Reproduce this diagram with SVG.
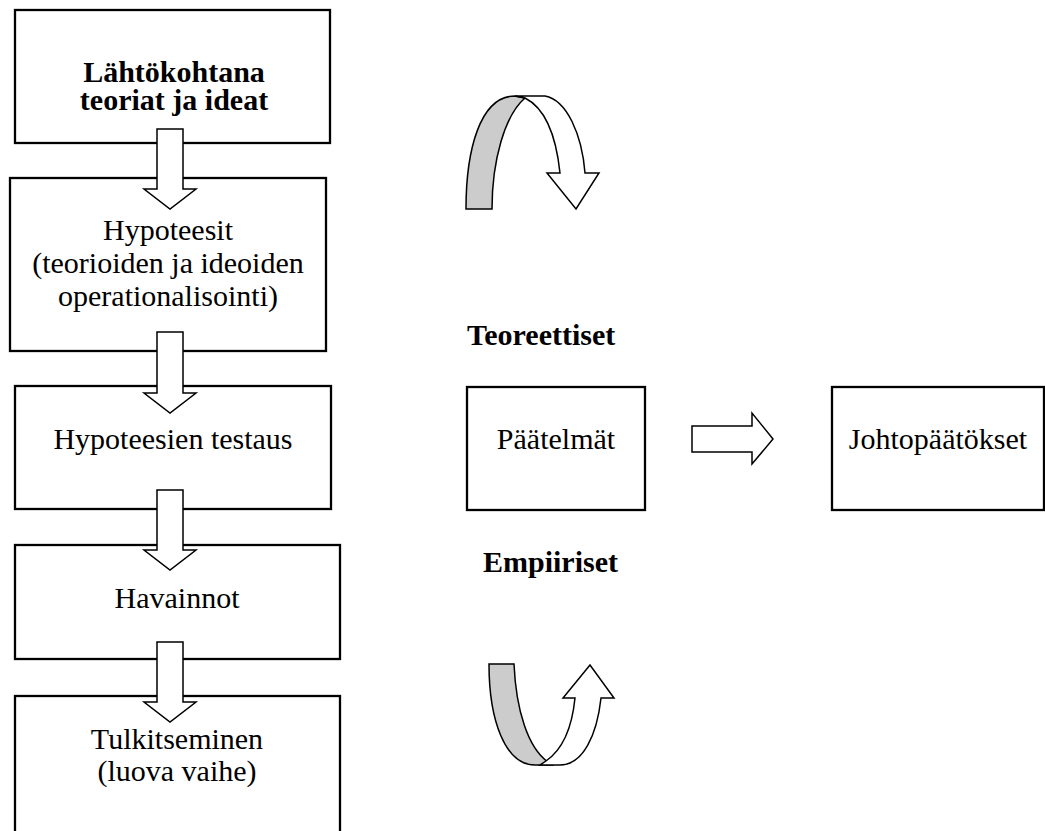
<svg xmlns="http://www.w3.org/2000/svg" width="1045" height="831" viewBox="0 0 1045 831">
<style>
.box{fill:#fff;stroke:#000;stroke-width:2.3}
text{font-family:'Liberation Serif','Times New Roman',serif;font-size:30px;fill:#000;text-anchor:middle}
.b{font-weight:bold}
.arr{fill:#fff;stroke:#000;stroke-width:1.5;stroke-linejoin:miter}
.gray{fill:#cccccc;stroke:#000;stroke-width:1.5}
</style>
<rect width="1045" height="831" fill="#fff"/>
<g id="n1"><rect class="box" x="15" y="10" width="315" height="133"/>
<text class="b" x="174" y="82">Lähtökohtana</text><text class="b" x="174" y="110">teoriat ja ideat</text></g>
<g id="n2"><rect class="box" x="10" y="178" width="316" height="173"/>
<text x="168" y="240">Hypoteesit</text><text x="168" y="273">(teorioiden ja ideoiden</text><text x="168" y="306">operationalisointi)</text></g>
<g id="n3"><rect class="box" x="15" y="386" width="316" height="123"/>
<text x="173" y="449">Hypoteesien testaus</text></g>
<g id="n4"><rect class="box" x="15" y="545" width="325" height="114"/>
<text x="177" y="608">Havainnot</text></g>
<g id="n5"><rect class="box" x="15" y="696" width="325" height="145"/>
<text x="177" y="749">Tulkitseminen</text><text x="177" y="781">(luova vaihe)</text></g>
<g id="n6"><rect class="box" x="467" y="387" width="178" height="123"/>
<text x="556" y="449">Päätelmät</text></g>
<g id="n7"><rect class="box" x="832" y="387" width="212" height="123"/>
<text x="938" y="449">Johtopäätökset</text></g>
<g id="labels">
<text class="b" x="467" y="345" style="text-anchor:start">Teoreettiset</text>
<text class="b" x="483" y="572" style="text-anchor:start">Empiiriset</text>
</g>
<g id="connectors">
<path class="arr" d="M157,129 H183 V189 H196 L170,209 L144,189 H157 Z"/>
<path class="arr" d="M157,332 H183 V393 H196 L170,413 L144,393 H157 Z"/>
<path class="arr" d="M157,490 H183 V550 H196 L170,570 L144,550 H157 Z"/>
<path class="arr" d="M157,642 H183 V702 H196 L170,722 L144,702 H157 Z"/>
<path class="arr" d="M692,426 H752 V413 L773,439 L752,464 V452 H692 Z"/>
<path class="gray" d="M466,209 C466,150 480,96 515,96 L525,98 C505,115 492,160 492,209 Z"/>
<path class="arr" d="M515,96 L545,96 C567,100 582,135 585,173 L599,173 L576,209 L547,173 L560,173 C556,135 545,108 525,98 Z"/>
<path class="gray" d="M489,664 L514,664 C516,710 528,748 548,762 L552,765 L535,765 C505,765 489,720 489,664 Z"/>
<path class="arr" d="M540,765 L560,765 C583,765 597,735 601,698 L614,698 L590,665 L563,698 L575,698 C572,728 562,750 546,761 Z"/>
</g>
</svg>
